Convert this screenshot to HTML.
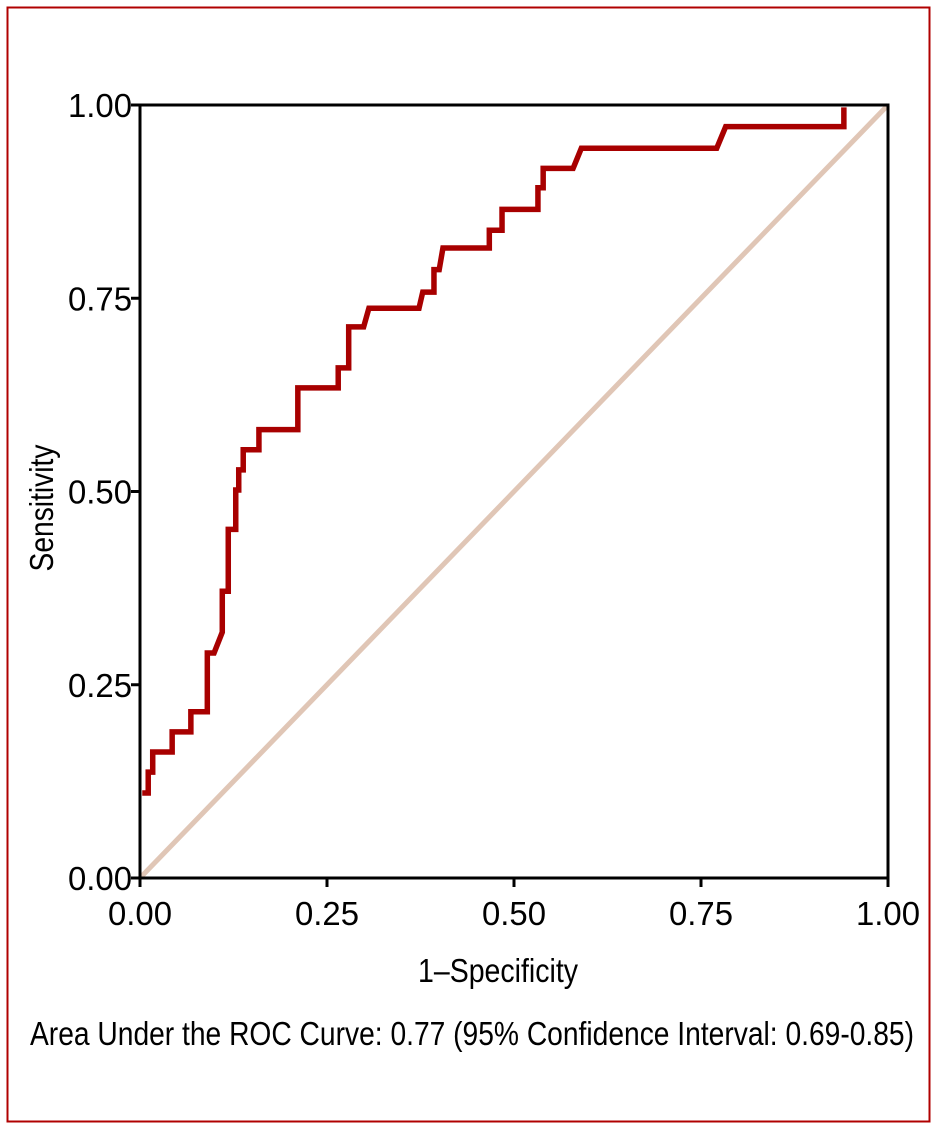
<!DOCTYPE html>
<html><head><meta charset="utf-8"><style>
html,body{margin:0;padding:0;background:#fff;}
svg text{font-family:"Liberation Sans Narrow","Liberation Sans",sans-serif;fill:#000;}
</style></head><body>
<svg width="937" height="1133" xmlns="http://www.w3.org/2000/svg">
<rect x="7.5" y="7.5" width="922" height="1114" fill="none" stroke="#b00000" stroke-width="2"/>
<g id="plot"></g>
</svg>
<script>
const fprValues=[0.003,0.011,0.011,0.017,0.017,0.043,0.043,0.068,0.068,0.090,0.090,0.099,0.110,0.110,0.118,0.118,0.128,0.128,0.132,0.132,0.138,0.138,0.159,0.159,0.211,0.211,0.265,0.265,0.279,0.279,0.299,0.306,0.373,0.378,0.393,0.393,0.400,0.405,0.467,0.467,0.484,0.484,0.532,0.532,0.539,0.539,0.579,0.590,0.771,0.783,0.941,0.941];
const tprValues=[0.110,0.110,0.137,0.137,0.163,0.163,0.189,0.189,0.215,0.215,0.291,0.291,0.318,0.371,0.371,0.451,0.451,0.502,0.502,0.528,0.528,0.554,0.554,0.580,0.580,0.634,0.634,0.660,0.660,0.713,0.713,0.737,0.737,0.758,0.758,0.787,0.787,0.815,0.815,0.838,0.838,0.865,0.865,0.893,0.893,0.918,0.918,0.944,0.944,0.972,0.972,0.997];
const xTicks=[0,0.25,0.5,0.75,1];
const yTicks=[0,0.25,0.5,0.75,1];
const tickLabels=["0.00","0.25","0.50","0.75","1.00"];
const X0=140,X1=888,Y0=878,Y1=105;
const sx=v=>X0+v*(X1-X0), sy=v=>Y0-v*(Y0-Y1);
const NS="http://www.w3.org/2000/svg";
const g=document.getElementById('plot');
function mk(t,a){const e=document.createElementNS(NS,t);for(const k in a)e.setAttribute(k,a[k]);g.appendChild(e);return e;}
let d=mk('line',{x1:sx(0),y1:sy(0),x2:sx(1),y2:sy(1),stroke:'#e0c6b6','stroke-width':5});


let box=mk('rect',{x:X0,y:Y1,width:X1-X0,height:Y0-Y1,fill:'none',stroke:'#000','stroke-width':3});


let pts=fprValues.map((v,i)=>sx(v)+','+sy(tprValues[i])).join(' ');
let c=mk('polyline',{points:pts,fill:'none',stroke:'#a80000','stroke-width':5.5,'stroke-linejoin':'miter'});


xTicks.forEach((v,i)=>{
 let t=mk('line',{x1:sx(v),y1:Y0,x2:sx(v),y2:Y0+9,stroke:'#000','stroke-width':3});
 
 
 let l=mk('text',{x:sx(v),y:925,'text-anchor':'middle','font-size':33,textLength:64,lengthAdjust:'spacingAndGlyphs'});
 l.textContent=tickLabels[i];
 
 
});
yTicks.forEach((v,i)=>{
 let t=mk('line',{x1:X0-9,y1:sy(v),x2:X0,y2:sy(v),stroke:'#000','stroke-width':3});
 
 
 let l=mk('text',{x:132,y:sy(v)+12,'text-anchor':'end','font-size':33,textLength:64,lengthAdjust:'spacingAndGlyphs'});
 l.textContent=tickLabels[i];
 
 
});
let xt=mk('text',{x:498,y:982,'text-anchor':'middle','font-size':33,textLength:160,lengthAdjust:'spacingAndGlyphs'});
xt.textContent='1–Specificity';


let yt=mk('text',{x:0,y:0,'text-anchor':'middle','font-size':33,textLength:127,lengthAdjust:'spacingAndGlyphs',transform:'translate(53,508) rotate(-90)'});
yt.textContent='Sensitivity';


let ft=mk('text',{x:472,y:1045,'text-anchor':'middle','font-size':33,textLength:884,lengthAdjust:'spacingAndGlyphs'});
ft.textContent='Area Under the ROC Curve: 0.77 (95% Confidence Interval: 0.69-0.85)';


</script>
</body></html>
